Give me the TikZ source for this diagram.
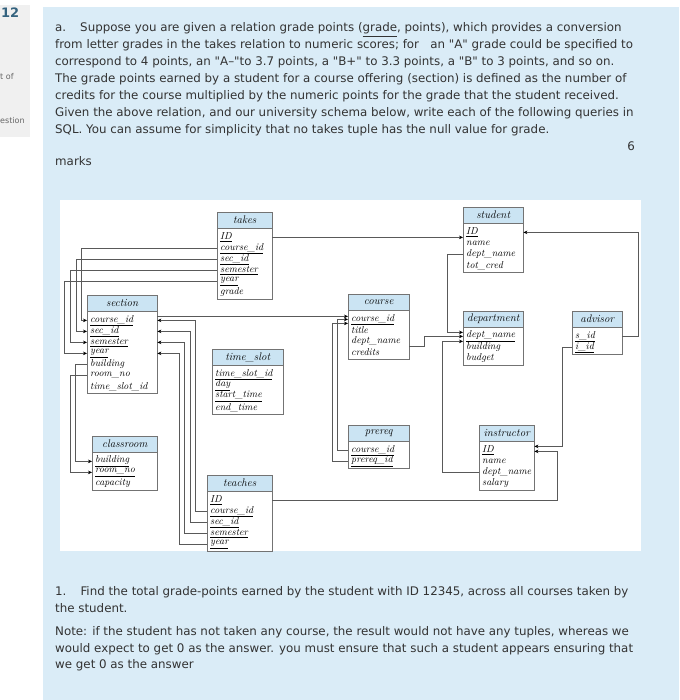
\documentclass[tikz,border=0pt]{standalone}
\usepackage{fontspec}
\usetikzlibrary{arrows.meta}
\newfontfamily\uifont{DejaVu Sans}
\definecolor{panelblue}{HTML}{DAECF7}
\definecolor{panelgray}{HTML}{F0F0F0}
\definecolor{headblue}{HTML}{CBE4F3}
\definecolor{inktext}{HTML}{333333}
\definecolor{numblue}{HTML}{35637F}

\tikzset{
  relhead/.style={draw=black!55, fill=headblue, anchor=north west, inner sep=0pt,
    minimum height=16pt, font=\fontsize{11}{11}\selectfont\itshape},
  relattr/.style={anchor=west, inner xsep=3pt, inner ysep=0pt, align=left,
    font=\fontsize{10}{10}\selectfont\itshape},
  relframe/.style={draw=black!55, fill=white},
  fk/.style={draw=black!65, line width=0.7pt, -{Stealth[length=4pt,width=3.6pt,black]}},
  qline/.style={anchor=base west, inner sep=0pt, text=inktext,
    font=\uifont\fontsize{11.85}{13}\selectfont},
  sideline/.style={anchor=base west, inner sep=0pt, text=black!60,
    font=\uifont\fontsize{8}{9}\selectfont},
}

% one relation: name, top-left, width, title, rows, attributes
\newcommand\relation[6]{%
  \node[relhead, minimum width=#3pt] (#1) at #2 {#4};
  \draw[relframe] (#1.south west) rectangle ++(#3,{#5*11+5});
  \pgfmathsetlengthmacro\relw{#3pt-6pt}
  \foreach \attr [count=\i, evaluate=\i as \dy using 9+11*(\i-1)] in {#6}
    \node[relattr, text width=\relw] (#1-\i) at ([yshift=-\dy pt]#1.south west) {\attr};
}

\begin{document}
\begin{tikzpicture}[x=1pt, y=-1pt]
  \useasboundingbox (0,0) rectangle (679,700);
  % panels
  \fill[panelgray] (0,5) rectangle (30,137);
  \fill[panelblue] (43,7) rectangle (679,700);
  \fill[white] (60,200) rectangle (641,551);
  % side labels
  \node[sideline, text=numblue, font=\uifont\bfseries\fontsize{13}{14}\selectfont] (qnum) at (1,18) {12};
  \node[sideline] (side1) at (0,80) {t of};
  \node[sideline] (side2) at (0,124) {estion};
  % question text
  \node[qline] (q1) at (55,32) {a.\hspace{14pt}Suppose you are given a relation grade points (\underline{grade}, points), which provides a conversion};
  \node[qline] (q2) at (55,49) {from letter grades in the takes relation to numeric scores; for \ \ an "A" grade could be specified to};
  \node[qline] (q3) at (55,66) {correspond to 4 points, an "A–"to 3.7 points, a "B+" to 3.3 points, a "B" to 3 points, and so on.};
  \node[qline] (q4) at (55,83) {The grade points earned by a student for a course offering (section) is defined as the number of};
  \node[qline] (q5) at (55,100) {credits for the course multiplied by the numeric points for the grade that the student received.};
  \node[qline] (q6) at (55,117) {Given the above relation, and our university schema below, write each of the following queries in};
  \node[qline] (q7) at (55,134) {SQL. You can assume for simplicity that no takes tuple has the null value for grade.};
  \node[qline, anchor=base east] (marknum) at (635,151) {6};
  \node[qline] (marks) at (55,166) {marks};
  % relations
  \relation{takes}{(217,212)}{55}{takes}{6}{\underline{ID},\underline{course\_id},\underline{sec\_id},\underline{semester},\underline{year},grade}
  \relation{student}{(463,207)}{60}{student}{4}{\underline{ID},name,dept\_name,tot\_cred}
  \relation{section}{(87,295)}{70}{section}{7}{\underline{course\_id},\underline{sec\_id},\underline{semester},\underline{year},building,room\_no,time\_slot\_id}
  \relation{timeslot}{(212,349)}{71}{time\_slot}{4}{\underline{time\_slot\_id},\underline{day},\underline{start\_time},end\_time}
  \relation{course}{(348,294)}{61}{course}{4}{\underline{course\_id},title,dept\_name,credits}
  \relation{department}{(463,311)}{60}{department}{3}{\underline{dept\_name},building,budget}
  \relation{advisor}{(572,311)}{50}{advisor}{2}{\underline{s\_id},\underline{i\_id}}
  \relation{classroom}{(92,436)}{65}{classroom}{3}{\underline{building},\underline{room\_no},capacity}
  \relation{teaches}{(207,475)}{65}{teaches}{5}{\underline{ID},\underline{course\_id},\underline{sec\_id},\underline{semester},\underline{year}}
  \relation{prereq}{(348,425)}{61}{prereq}{2}{\underline{course\_id},\underline{prereq\_id}}
  \relation{instructor}{(479,425)}{55}{instructor}{4}{\underline{ID},name,dept\_name,salary}
  % takes
  \draw[fk] (takes-1.east) -- (takes-1.east -| student-1.west);
  \draw[fk] (takes-2.west) -| ([xshift=-6pt]section-1.west) -- (section-1.west);
  \draw[fk] (takes-3.west) -| ([xshift=-11pt]section-2.west) -- (section-2.west);
  \draw[fk] (takes-4.west) -| ([xshift=-17pt]section-3.west) -- (section-3.west);
  \draw[fk] (takes-5.west) -| ([xshift=-23pt]section-4.west) -- (section-4.west);
  % section
  \draw[fk] (section-5.west) -| ([xshift=-17pt]classroom-1.west) -- (classroom-1.west);
  \draw[fk] (section-6.west) -| ([xshift=-22pt]classroom-2.west) -- (classroom-2.west);
  \draw[fk] ([yshift=4pt]section-1.east) -- ([yshift=4pt]section-1.east -| course-1.west);
  % prereq
  \draw[fk] (prereq-1.west) -| ([xshift=-11pt]course-1.west) -- (course-1.west);
  \draw[fk] (prereq-2.west) -| ([xshift=-16pt,yshift=-4pt]course-1.west) -- ([yshift=-4pt]course-1.west);
  % teaches
  \draw[fk] (teaches-2.west) -| ([xshift=38pt]section-1.east) -- (section-1.east);
  \draw[fk] (teaches-3.west) -| ([xshift=33pt]section-2.east) -- (section-2.east);
  \draw[fk] (teaches-4.west) -| ([xshift=27pt]section-3.east) -- (section-3.east);
  \draw[fk] (teaches-5.west) -| ([xshift=22pt]section-4.east) -- (section-4.east);
  \draw[fk] (teaches-1.east) -| ([xshift=23pt,yshift=-1pt]instructor-1.east) -- ([yshift=-1pt]instructor-1.east);
  % department
  \draw[fk] ([yshift=-5pt]course-3.east) -- ++(15,0) |- (department-1.west);
  \draw[fk] (student-3.west) -| ([xshift=-16pt,yshift=4pt]department-1.west) -- ([yshift=4pt]department-1.west);
  \draw[fk] (instructor-3.west) -| ([xshift=-21pt,yshift=-5pt]department-1.west) -- ([yshift=-5pt]department-1.west);
  % advisor
  \draw[fk] (advisor-1.east) -| ([xshift=115pt]student-1.east) -- (student-1.east);
  \draw[fk] (advisor-2.west) -| ([xshift=28pt,yshift=4pt]instructor-1.east) -- ([yshift=4pt]instructor-1.east);
  % part 1
  \node[qline] (p1) at (55,595) {1.\hspace{14pt}Find the total grade-points earned by the student with ID 12345, across all courses taken by};
  \node[qline] (p2) at (55,612) {the student.};
  \node[qline] (p3) at (55,635) {Note: if the student has not taken any course, the result would not have any tuples, whereas we};
  \node[qline] (p4) at (55,652) {would expect to get 0 as the answer. you must ensure that such a student appears ensuring that};
  \node[qline] (p5) at (55,668) {we get 0 as the answer};
\end{tikzpicture}
\end{document}
